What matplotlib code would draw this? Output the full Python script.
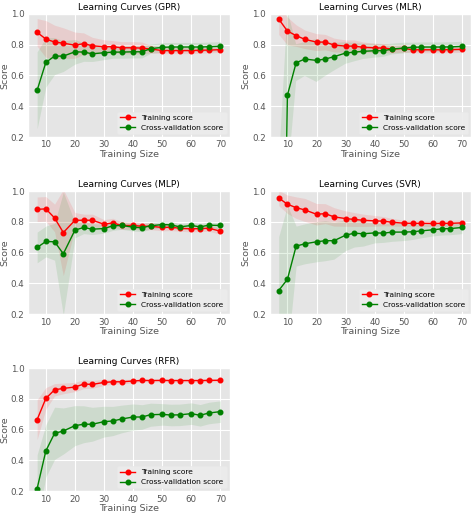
import numpy as np
import matplotlib
matplotlib.use("Agg")
import matplotlib.pyplot as plt

plt.style.use("ggplot")

train_sizes = [7, 10, 13, 16, 20, 23, 26, 30, 33, 36, 40, 43, 46, 50, 53, 56, 60, 63, 66, 70]

models = ["GPR", "MLR", "MLP", "SVR", "RFR"]

gpr_train = [0.880, 0.837, 0.817, 0.810, 0.797, 0.807, 0.793, 0.787, 0.787, 0.780,
             0.780, 0.778, 0.772, 0.762, 0.762, 0.762, 0.762, 0.764, 0.765, 0.768]
gpr_train_std = [0.09, 0.12, 0.11, 0.10, 0.085, 0.07, 0.055, 0.045, 0.04, 0.04,
                 0.04, 0.04, 0.025, 0.02, 0.02, 0.02, 0.02, 0.02, 0.018, 0.018]
gpr_cv = [0.504, 0.685, 0.726, 0.726, 0.754, 0.752, 0.741, 0.748, 0.752, 0.752,
          0.754, 0.754, 0.774, 0.783, 0.785, 0.785, 0.785, 0.785, 0.787, 0.790]
gpr_cv_std = [0.25, 0.16, 0.12, 0.10, 0.08, 0.06, 0.05, 0.045, 0.04, 0.04,
              0.04, 0.04, 0.03, 0.03, 0.03, 0.03, 0.03, 0.03, 0.03, 0.03]

mlr_train = [0.967, 0.889, 0.859, 0.835, 0.817, 0.817, 0.798, 0.791, 0.791, 0.783,
             0.780, 0.778, 0.772, 0.776, 0.767, 0.767, 0.767, 0.767, 0.768, 0.770]
mlr_train_std = [0.10, 0.09, 0.07, 0.06, 0.055, 0.05, 0.045, 0.04, 0.04, 0.035,
                 0.03, 0.03, 0.025, 0.025, 0.02, 0.02, 0.02, 0.02, 0.02, 0.02]
mlr_cv = [-3.0, 0.472, 0.683, 0.707, 0.698, 0.707, 0.722, 0.746, 0.752, 0.757,
          0.761, 0.761, 0.772, 0.778, 0.783, 0.785, 0.785, 0.785, 0.786, 0.789]
mlr_cv_std = [3.0, 0.55, 0.12, 0.11, 0.14, 0.11, 0.09, 0.07, 0.06, 0.05,
              0.045, 0.04, 0.035, 0.035, 0.03, 0.03, 0.03, 0.03, 0.03, 0.03]

mlp_train = [0.881, 0.884, 0.825, 0.730, 0.810, 0.810, 0.810, 0.784, 0.793, 0.776,
             0.776, 0.771, 0.771, 0.763, 0.765, 0.758, 0.754, 0.756, 0.758, 0.739]
mlp_train_std = [0.08, 0.08, 0.09, 0.28, 0.05, 0.04, 0.04, 0.03, 0.03, 0.025,
                 0.025, 0.025, 0.022, 0.022, 0.022, 0.02, 0.02, 0.02, 0.02, 0.02]
mlp_cv = [0.633, 0.672, 0.670, 0.592, 0.746, 0.763, 0.752, 0.756, 0.774, 0.776,
          0.765, 0.761, 0.774, 0.782, 0.780, 0.767, 0.776, 0.767, 0.778, 0.776]
mlp_cv_std = [0.10, 0.10, 0.12, 0.40, 0.05, 0.04, 0.035, 0.03, 0.03, 0.025,
              0.025, 0.025, 0.022, 0.022, 0.022, 0.02, 0.02, 0.02, 0.02, 0.02]

svr_train = [0.955, 0.914, 0.892, 0.877, 0.849, 0.853, 0.832, 0.821, 0.815, 0.810,
             0.806, 0.804, 0.797, 0.791, 0.790, 0.790, 0.789, 0.790, 0.790, 0.793]
svr_train_std = [0.05, 0.06, 0.07, 0.075, 0.07, 0.065, 0.06, 0.05, 0.045, 0.04,
                 0.035, 0.03, 0.025, 0.02, 0.02, 0.02, 0.02, 0.02, 0.02, 0.02]
svr_cv = [0.353, 0.426, 0.642, 0.657, 0.670, 0.677, 0.677, 0.713, 0.726, 0.722,
          0.728, 0.726, 0.733, 0.733, 0.735, 0.741, 0.748, 0.754, 0.756, 0.763]
svr_cv_std = [0.35, 0.48, 0.13, 0.13, 0.13, 0.13, 0.12, 0.10, 0.09, 0.08,
              0.065, 0.06, 0.06, 0.055, 0.05, 0.045, 0.04, 0.04, 0.04, 0.04]

rfr_train = [0.665, 0.803, 0.859, 0.868, 0.877, 0.896, 0.894, 0.907, 0.911, 0.911,
             0.916, 0.920, 0.919, 0.920, 0.919, 0.919, 0.919, 0.919, 0.920, 0.921]
rfr_train_std = [0.13, 0.07, 0.04, 0.035, 0.03, 0.03, 0.025, 0.02, 0.015, 0.015,
                 0.012, 0.01, 0.01, 0.01, 0.01, 0.01, 0.01, 0.01, 0.01, 0.01]
rfr_cv = [0.217, 0.462, 0.576, 0.591, 0.626, 0.635, 0.635, 0.652, 0.656, 0.669,
          0.682, 0.682, 0.697, 0.699, 0.695, 0.696, 0.704, 0.693, 0.708, 0.717]
rfr_cv_std = [0.22, 0.17, 0.17, 0.15, 0.13, 0.12, 0.11, 0.10, 0.095, 0.09,
              0.085, 0.08, 0.075, 0.07, 0.07, 0.07, 0.07, 0.07, 0.07, 0.07]

series = {
    "GPR": (gpr_train, gpr_train_std, gpr_cv, gpr_cv_std),
    "MLR": (mlr_train, mlr_train_std, mlr_cv, mlr_cv_std),
    "MLP": (mlp_train, mlp_train_std, mlp_cv, mlp_cv_std),
    "SVR": (svr_train, svr_train_std, svr_cv, svr_cv_std),
    "RFR": (rfr_train, rfr_train_std, rfr_cv, rfr_cv_std),
}

fig, axes = plt.subplots(3, 2, figsize=(4.74, 5.17), dpi=100)
fig.subplots_adjust(left=0.059, right=0.994, top=0.973, bottom=0.050,
                    wspace=0.198, hspace=0.439)

x = np.array(train_sizes)
for ax, name in zip(axes.flat, models):
    tr, trs, cv, cvs = (np.array(a) for a in series[name])
    ax.fill_between(x, tr - trs, tr + trs, alpha=0.1, color="r", lw=0)
    ax.fill_between(x, cv - cvs, cv + cvs, alpha=0.1, color="g", lw=0)
    ax.plot(x, tr, "o-", color="r", label="Training score", lw=1, ms=3.3)
    ax.plot(x, cv, "o-", color="g", label="Cross-validation score", lw=1, ms=3.3)
    ax.set_ylim(0.2, 1.0)
    ax.set_xticks([10, 20, 30, 40, 50, 60, 70])
    ax.set_yticks([0.2, 0.4, 0.6, 0.8, 1.0])
    ax.tick_params(labelsize=6.3, length=0, pad=2.5)
    ax.set_title(f"Learning Curves ({name})", fontsize=6.5, pad=3)
    ax.set_xlabel("Training Size", fontsize=6.8, labelpad=0.5)
    ax.set_ylabel("Score", fontsize=6.8, labelpad=1)
    leg = ax.legend(loc="lower right", fontsize=5.4, frameon=True, handlelength=2.0,
                    borderaxespad=0.4, labelspacing=0.5, facecolor="#ECECEC",
                    edgecolor="#E8E8E8", framealpha=0.9)

axes[2, 1].axis("off")
fig.savefig("out.png", dpi=100)
